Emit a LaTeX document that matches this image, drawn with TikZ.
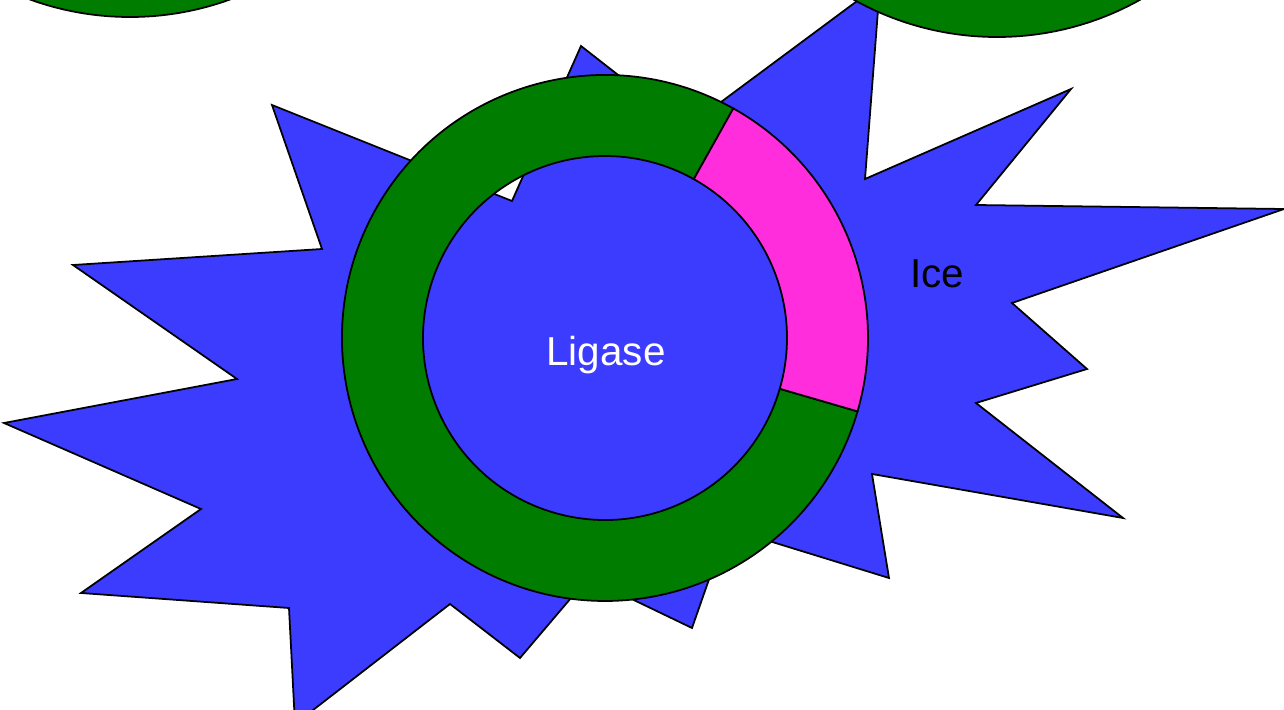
\documentclass[tikz,border=0pt]{standalone}
\usepackage{fontspec}
\setmainfont{Liberation Sans}
\usepackage{xcolor}
\usepackage{tikz}

\definecolor{starblue}{RGB}{60,60,255}
\definecolor{ringgreen}{RGB}{0,125,0}
\definecolor{segpink}{RGB}{255,45,220}

\begin{document}
\begin{tikzpicture}[x=0.2mm,y=0.2mm,line width=1pt,line join=miter,
    every node/.style={font=\fontsize{23}{27}\selectfont,inner sep=0pt}]
    \useasboundingbox (0,0) rectangle (1284,709);
    \clip (0,0) rectangle (1284,709);
    \draw[fill=starblue] (272,604) -- (512,508) -- (581,663) -- (686,581)
      -- (880,725) -- (865,530) -- (1071,620) -- (976,504) -- (1284,500)
      -- (1012,406) -- (1087,340) -- (976,306) -- (1123,191) -- (872,235)
      -- (889,131) -- (727,181) -- (692,81) -- (588,131) -- (520,51)
      -- (450,105) -- (295,-15) -- (289,101) -- (81,116) -- (201,200)
      -- (4,286) -- (237,330) -- (73,444) -- (322,460) -- cycle;
    \draw[fill=ringgreen] (130,985) circle[radius=293];
    \draw[fill=ringgreen] (997,965) circle[radius=293];
    \coordinate (ring) at (605,371);
    \begin{scope}[shift={(ring)}]
      \draw[fill=ringgreen] (60.8:263) arc[start angle=60.8,end angle=343.8,radius=263]
        -- (343.8:182) arc[start angle=343.8,end angle=60.8,radius=182] -- cycle;
      \draw[fill=segpink] (-16.2:263) arc[start angle=-16.2,end angle=60.8,radius=263]
        -- (60.8:182) arc[start angle=60.8,end angle=-16.2,radius=182] -- cycle;
    \end{scope}
    \node[anchor=base,text=white] (ligase) at (606,343) {Ligase};
    \node[anchor=base] (ice) at (937,421) {Ice};
  \end{tikzpicture}
\end{document}
